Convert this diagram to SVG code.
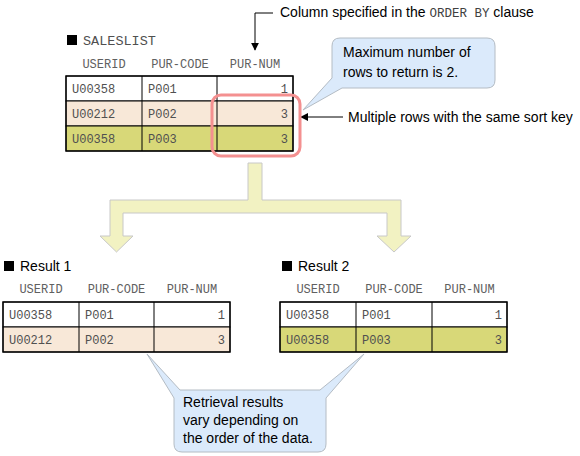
<svg xmlns="http://www.w3.org/2000/svg" width="580" height="456" viewBox="0 0 580 456">
<style>
.mono{font-family:"Liberation Mono","DejaVu Sans Mono",monospace;font-size:12px;fill:#505050}
.hdr{font-family:"Liberation Mono","DejaVu Sans Mono",monospace;font-size:12px;fill:#606060;text-anchor:middle}
.sans{font-family:"Liberation Sans",Arial,sans-serif;font-size:14px;fill:#000}
.title{font-family:"Liberation Sans",Arial,sans-serif;font-size:14px;fill:#000}
.cell{stroke:#000;stroke-width:1}
.callout{fill:#dbeafb;stroke:#b4bcc4;stroke-width:1}
.r{text-anchor:end}
</style>
<defs>
<marker id="ah" viewBox="0 0 10 10" refX="9" refY="5" markerWidth="8" markerHeight="8" markerUnits="userSpaceOnUse" orient="auto">
<path d="M0 0 L10 5 L0 10 Z" fill="#000"/>
</marker>
</defs>

<g id="connectors">
<path d="M248 163 L262 163 L262 200 L401 200 L401 236 L411 236 L394 252 L377 236 L387 236 L387 213 L123 213 L123 236 L133 236 L116.5 252 L100 236 L110 236 L110 200 L248 200 Z" fill="#f2f2c2" stroke="#c8c8c8" stroke-width="1"/>
<path d="M273 13 L255 13 L255 50" fill="none" stroke="#000" stroke-width="1" marker-end="url(#ah)"/>
<path d="M343 117 L301 117" fill="none" stroke="#000" stroke-width="1" marker-end="url(#ah)"/>
</g>

<g id="saleslist">
<rect x="67" y="35" width="10" height="10" fill="#000"/>
<text class="mono" x="83" y="45" style="font-size:13.5px">SALESLIST</text>
<text class="hdr" x="104" y="68">USERID</text>
<text class="hdr" x="180" y="68">PUR-CODE</text>
<text class="hdr" x="255" y="68">PUR-NUM</text>
<rect class="cell" x="66" y="76" width="227" height="25" fill="#fff"/>
<rect class="cell" x="66" y="101" width="227" height="25" fill="#f8e8d8"/>
<rect class="cell" x="66" y="126" width="227" height="25" fill="#d8d878"/>
<line class="cell" x1="142" y1="76" x2="142" y2="151"/>
<line class="cell" x1="217" y1="76" x2="217" y2="151"/>
<rect x="66" y="76" width="227" height="75" fill="none" stroke="#000" stroke-width="1.3"/>
<text class="mono" x="72" y="93">U00358</text><text class="mono" x="148" y="93">P001</text><text class="mono r" x="288" y="93">1</text>
<text class="mono" x="72" y="118">U00212</text><text class="mono" x="148" y="118">P002</text><text class="mono r" x="288" y="118">3</text>
<text class="mono" x="72" y="143">U00358</text><text class="mono" x="148" y="143">P003</text><text class="mono r" x="288" y="143">3</text>
</g>

<g id="sortkey-highlight">
<rect x="212" y="95" width="88" height="61" rx="9" fill="none" stroke="#f49090" stroke-width="3"/>
</g>

<g id="label-orderby">
<text class="sans" x="280" y="17">Column specified in the <tspan style="font-family:'Liberation Mono',monospace;font-size:12.5px;fill:#404040">ORDER BY</tspan> clause</text>
</g>

<g id="label-sortkey">
<text class="sans" x="348" y="122">Multiple rows with the same sort key</text>
</g>

<g id="callout-max">
<path class="callout" d="M340 38 L487 38 Q495 38 495 46 L495 80 Q495 88 487 88 L342 88 L303 110 L332 78 L332 46 Q332 38 340 38 Z"/>
<text class="sans" x="343" y="57">Maximum number of</text>
<text class="sans" x="343" y="77">rows to return is 2.</text>
</g>

<g id="result1">
<rect x="4" y="261" width="10" height="10" fill="#000"/>
<text class="title" x="20" y="271">Result 1</text>
<text class="hdr" x="41" y="293">USERID</text>
<text class="hdr" x="116.5" y="293">PUR-CODE</text>
<text class="hdr" x="192" y="293">PUR-NUM</text>
<rect class="cell" x="3" y="302" width="227" height="25" fill="#fff"/>
<rect class="cell" x="3" y="327" width="227" height="25" fill="#f8e8d8"/>
<line class="cell" x1="79" y1="302" x2="79" y2="352"/>
<line class="cell" x1="154" y1="302" x2="154" y2="352"/>
<rect x="3" y="302" width="227" height="50" fill="none" stroke="#000" stroke-width="1.3"/>
<text class="mono" x="9" y="319">U00358</text><text class="mono" x="85" y="319">P001</text><text class="mono r" x="225" y="319">1</text>
<text class="mono" x="9" y="344">U00212</text><text class="mono" x="85" y="344">P002</text><text class="mono r" x="225" y="344">3</text>
</g>

<g id="result2">
<rect x="282" y="261" width="10" height="10" fill="#000"/>
<text class="title" x="298" y="271">Result 2</text>
<text class="hdr" x="318" y="293">USERID</text>
<text class="hdr" x="394" y="293">PUR-CODE</text>
<text class="hdr" x="469.5" y="293">PUR-NUM</text>
<rect class="cell" x="280" y="302" width="227" height="25" fill="#fff"/>
<rect class="cell" x="280" y="327" width="227" height="25" fill="#d8d878"/>
<line class="cell" x1="356" y1="302" x2="356" y2="352"/>
<line class="cell" x1="432" y1="302" x2="432" y2="352"/>
<rect x="280" y="302" width="227" height="50" fill="none" stroke="#000" stroke-width="1.3"/>
<text class="mono" x="286" y="319">U00358</text><text class="mono" x="362" y="319">P001</text><text class="mono r" x="502" y="319">1</text>
<text class="mono" x="286" y="344">U00358</text><text class="mono" x="362" y="344">P003</text><text class="mono r" x="502" y="344">3</text>
</g>

<g id="callout-vary">
<path class="callout" d="M180 390 L320 390 L364 354 L326 398 L326 444 Q326 452 318 452 L182 452 Q174 452 174 444 L174 398 L147 354 Z"/>
<text class="sans" x="183" y="407">Retrieval results</text>
<text class="sans" x="183" y="425">vary depending on</text>
<text class="sans" x="183" y="443">the order of the data.</text>
</g>
</svg>
